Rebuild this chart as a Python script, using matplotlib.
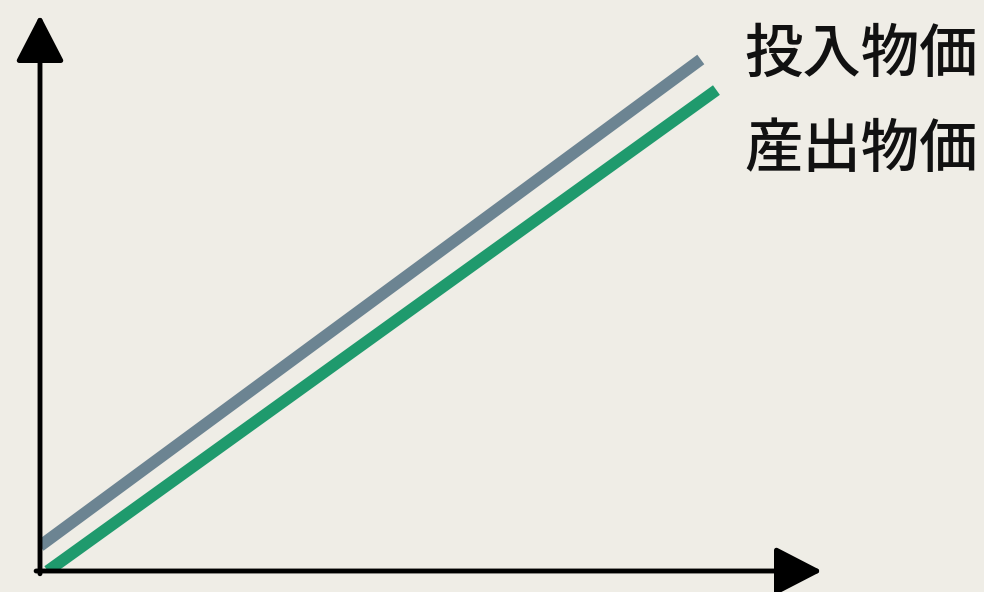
import matplotlib
matplotlib.use("Agg")
import matplotlib.pyplot as plt

plt.rcParams['font.family'] = ['Noto Sans CJK JP', 'DejaVu Sans']

BG = '#efede6'

# series (arbitrary units, both rising together)
labels = ['投入物価', '産出物価']
x_input = [0.0, 8.45]
y_input = [0.45, 9.2]
x_output = [0.1, 8.65]
y_output = [0.0, 8.65]
colors = ['#6c8492', '#1f9a6d']

fig = plt.figure(figsize=(9.84, 5.92), dpi=100)
fig.patch.set_facecolor(BG)
ax = fig.add_axes([40/984, 21/592, 782/984, 556/592])
ax.set_facecolor(BG)
ax.set_xlim(0, 10)
ax.set_ylim(0, 10)
ax.axis('off')

ax.plot(x_input, y_input, color=colors[0], lw=8.5, solid_capstyle='butt')
ax.plot(x_output, y_output, color=colors[1], lw=8.5, solid_capstyle='butt')

# axes with arrow heads
arrow = dict(arrowstyle='-|>,head_length=2.9,head_width=1.5', lw=3.5,
             color='black', shrinkA=0, shrinkB=0, mutation_scale=10)
ax.annotate('', xy=(0, 10), xytext=(0, -0.05), arrowprops=arrow, annotation_clip=False)
ax.annotate('', xy=(10, 0), xytext=(-0.05, 0), arrowprops=arrow, annotation_clip=False)

fig.text(744/984, 1 - 55/592, labels[0], fontsize=42, fontweight='medium',
         va='center', ha='left', color='#111111')
fig.text(744/984, 1 - 150/592, labels[1], fontsize=42, fontweight='medium',
         va='center', ha='left', color='#111111')

fig.savefig('out.png', dpi=100, facecolor=BG)
